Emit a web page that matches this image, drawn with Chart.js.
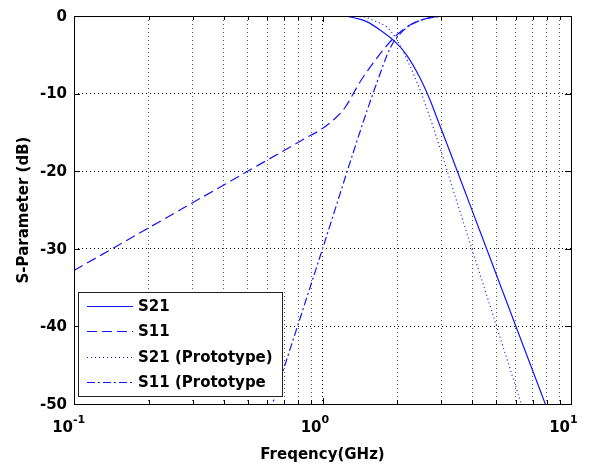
<!DOCTYPE html>
<html>
<head>
<meta charset="utf-8">
<style>
html, body { margin: 0; padding: 0; background: #fff; }
canvas { display: block; }
</style>
<script src="https://cdn.jsdelivr.net/npm/chart.js@4/dist/chart.umd.min.js"></script>
</head>
<body>
<canvas id="chart" width="594" height="464"></canvas>
<script>
// values (frequency in GHz, level in dB)
var freqS21 = [0.95, 1.072, 1.255, 1.377, 1.506, 1.704, 1.958, 2.182, 2.469, 2.708, 2.971, 3.26, 3.923, 4.721, 6.005, 7.862, 8.233];
var dbS21 = [0, 0, -0.06, -0.32, -0.73, -1.8, -3.31, -5.03, -7.99, -10.82, -14.18, -17.53, -24.34, -31.16, -40.02, -49.9, -51.6];

var freqS11 = [0.1, 0.3, 0.6, 0.85, 1.0, 1.123, 1.232, 1.415, 1.652, 1.928, 2.249, 2.627, 2.924];
var dbS11 = [-32.8, -24.07, -18.56, -15.79, -14.5, -13.21, -11.79, -8.51, -5.45, -2.87, -1.16, -0.3, -0.08];

var freqS21Proto = [1.176, 1.455, 1.627, 1.813, 1.958, 2.083, 2.249, 2.469, 2.785, 3.574, 4.721, 6.233, 6.529];
var dbS21Proto = [0, -0.1, -0.64, -1.42, -2.67, -4.16, -6.44, -9.54, -14.27, -25.19, -37.33, -49.47, -51.5];

var freqS11Proto = [0.587, 0.63, 0.977, 1.506, 1.704, 1.813, 1.921, 2.083, 2.319, 2.627, 2.916];
var dbS11Proto = [-52.99, -49.91, -31.02, -12.33, -7.47, -5.15, -3.48, -2.06, -0.97, -0.32, -0.06];

var seriesLabels = ['S21', 'S11', 'S21 (Prototype)', 'S11 (Prototype'];

var xTickValues = [0.1, 0.2, 0.3, 0.4, 0.5, 0.6, 0.7, 0.8, 0.9, 1, 2, 3, 4, 5, 6, 7, 8, 9, 10];
var xMajorTicks = [0.1, 1, 10];
var xMajorExponents = ['-1', '0', '1'];
var yTickValues = [0, -10, -20, -30, -40, -50];

var lineBlue = 'rgb(20,20,255)';
var textFont = 'bold 15px "DejaVu Sans", sans-serif';

function pts(xs, ys) {
    return xs.map(function (x, i) { return { x: x, y: ys[i] }; });
}

function makeSet(label, xs, ys, dash) {
    return {
        label: label,
        data: pts(xs, ys),
        borderColor: lineBlue,
        borderWidth: 1.2,
        borderDash: dash,
        pointRadius: 0,
        fill: false,
        cubicInterpolationMode: 'monotone'
    };
}

// ticks, frame, tick labels, titles and legend drawn MATLAB style
var axesDecor = {
    id: 'axesDecor',
    afterDraw: function (chart) {
        var ctx = chart.ctx,
            a = chart.chartArea,
            xs = chart.scales.x,
            ys = chart.scales.y;

        ctx.save();
        ctx.strokeStyle = '#000';
        ctx.lineWidth = 1;
        ctx.setLineDash([]);

        // inward tick marks
        ctx.beginPath();
        xTickValues.forEach(function (v) {
            var px = Math.round(xs.getPixelForValue(v)) + 0.5;
            var len = xMajorTicks.indexOf(v) >= 0 ? 6 : 4;
            ctx.moveTo(px, a.bottom); ctx.lineTo(px, a.bottom - len);
            ctx.moveTo(px, a.top); ctx.lineTo(px, a.top + len);
        });
        yTickValues.forEach(function (v) {
            var py = Math.round(ys.getPixelForValue(v)) + 0.5;
            ctx.moveTo(a.left, py); ctx.lineTo(a.left + 6, py);
            ctx.moveTo(a.right, py); ctx.lineTo(a.right - 6, py);
        });
        ctx.stroke();

        // frame
        ctx.strokeRect(Math.round(a.left) + 0.5, Math.round(a.top) + 0.5,
            Math.round(a.right - a.left), Math.round(a.bottom - a.top));

        ctx.fillStyle = '#000';
        ctx.font = textFont;

        // y tick labels
        ctx.textAlign = 'right';
        ctx.textBaseline = 'middle';
        yTickValues.forEach(function (v) {
            ctx.fillText(String(v), a.left - 7, ys.getPixelForValue(v) + 1);
        });

        // x tick labels 10^n
        ctx.textBaseline = 'alphabetic';
        xMajorTicks.forEach(function (v, i) {
            var px = xs.getPixelForValue(v);
            ctx.font = textFont;
            ctx.textAlign = 'right';
            ctx.fillText('10', px - 1, 432);
            ctx.font = 'bold 11px "DejaVu Sans", sans-serif';
            ctx.textAlign = 'left';
            ctx.fillText(xMajorExponents[i], px - 1, 423);
        });

        // axis titles
        ctx.font = textFont;
        ctx.textAlign = 'center';
        ctx.fillText('Freqency(GHz)', (a.left + a.right) / 2, 459);
        ctx.save();
        ctx.translate(28, 210);
        ctx.rotate(-Math.PI / 2);
        ctx.fillText('S-Parameter (dB)', 0, 0);
        ctx.restore();

        // legend box
        var bx = 78, by = 292, bw = 204, bh = 104;
        ctx.fillStyle = '#fff';
        ctx.fillRect(bx, by, bw, bh);
        ctx.strokeStyle = '#222';
        ctx.strokeRect(bx + 0.5, by + 0.5, bw, bh);
        chart.data.datasets.forEach(function (ds, i) {
            var ry = Math.round(by + 14 + i * 25.3) + 0.5;
            ctx.strokeStyle = ds.borderColor;
            ctx.lineWidth = 1.2;
            ctx.setLineDash(ds.borderDash || []);
            ctx.beginPath();
            ctx.moveTo(bx + 9, ry);
            ctx.lineTo(bx + 55, ry);
            ctx.stroke();
            ctx.setLineDash([]);
            ctx.fillStyle = '#000';
            ctx.font = textFont;
            ctx.textAlign = 'left';
            ctx.textBaseline = 'middle';
            ctx.fillText(ds.label, bx + 60, ry + 1);
        });
        ctx.restore();
    }
};

var ctx = document.getElementById('chart').getContext('2d');
var chart = new Chart(ctx, {
    type: 'line',
    data: {
        datasets: [
            makeSet(seriesLabels[0], freqS21, dbS21, []),
            makeSet(seriesLabels[1], freqS11, dbS11, [10, 5]),
            makeSet(seriesLabels[2], freqS21Proto, dbS21Proto, [1, 3]),
            makeSet(seriesLabels[3], freqS11Proto, dbS11Proto, [8, 3, 2, 3])
        ]
    },
    options: {
        responsive: false,
        animation: false,
        layout: { padding: { top: 16, right: 23, left: 0, bottom: 0 } },
        plugins: {
            legend: { display: false },
            tooltip: { enabled: false }
        },
        scales: {
            x: {
                type: 'logarithmic',
                min: 0.1,
                max: 10,
                afterBuildTicks: function (scale) {
                    scale.ticks = xTickValues.map(function (v) { return { value: v }; });
                },
                afterFit: function (scale) { scale.height = 60; },
                ticks: { display: false },
                grid: {
                    drawTicks: false,
                    color: function (c) {
                        return c.tick && xMajorTicks.indexOf(c.tick.value) >= 0 ? '#000' : '#555';
                    }
                },
                border: { display: false, dash: [1, 3] }
            },
            y: {
                min: -50,
                max: 0,
                afterBuildTicks: function (scale) {
                    scale.ticks = yTickValues.map(function (v) { return { value: v }; });
                },
                afterFit: function (scale) { scale.width = 74; },
                ticks: { display: false },
                grid: { drawTicks: false, color: '#000' },
                border: { display: false, dash: [1, 3] }
            }
        }
    },
    plugins: [axesDecor]
});
</script>
</body>
</html>
